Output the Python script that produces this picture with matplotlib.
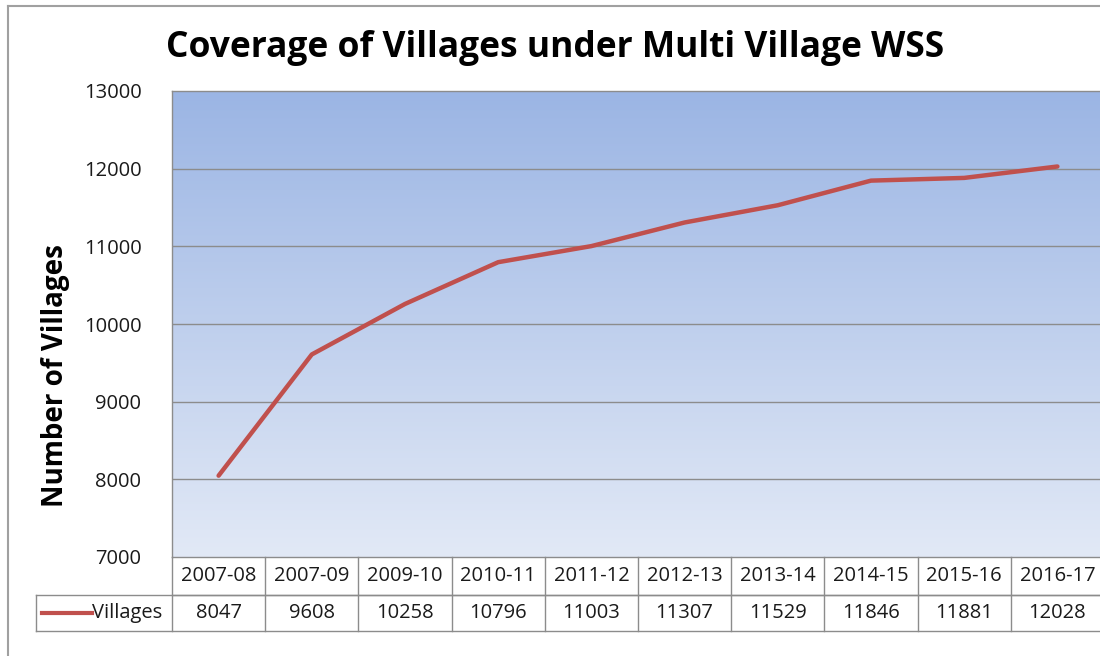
import numpy as np
import matplotlib
matplotlib.use('Agg')
from matplotlib import pyplot as plt
from matplotlib.lines import Line2D
import matplotlib.transforms as mtransforms

years = ['2007-08', '2007-09', '2009-10', '2010-11', '2011-12',
         '2012-13', '2013-14', '2014-15', '2015-16', '2016-17']
villages = [8047, 9608, 10258, 10796, 11003, 11307, 11529, 11846, 11881, 12028]
yticks = [7000, 8000, 9000, 10000, 11000, 12000, 13000]

title = 'Coverage of Villages under Multi Village WSS'
ylabel = 'Number of Villages'
series_name = 'Villages'

red = '#C0504D'
grid_c = '#8C8C8C'
text_c = '#1a1a1a'
font = 'Open Sans'

W, H = 1100, 656
fig = plt.figure(figsize=(W / 100, H / 100), dpi=100)
fig.patch.set_facecolor('white')

# plot area in pixels (right edge runs past the image, like the reference)
L, R, T, B = 172, 1104, 91, 557
ax = fig.add_axes([L / W, 1 - B / H, (R - L) / W, (B - T) / H])

n = len(years)
x = np.arange(n)

# gradient background, darker blue at the top
grad = np.linspace(0, 1, 256).reshape(-1, 1)
top = np.array([155, 181, 228]) / 255
bot = np.array([226, 233, 246]) / 255
img = top[None, None, :] * (1 - grad[:, :, None]) + bot[None, None, :] * grad[:, :, None]
ax.imshow(img, extent=[-0.5, n - 0.5, yticks[0], yticks[-1]], origin='upper',
          aspect='auto', zorder=0)
ax.set_xlim(-0.5, n - 0.5)
ax.set_ylim(yticks[0], yticks[-1])

for yv in yticks[1:-1]:
    ax.axhline(yv, color=grid_c, lw=1, zorder=1)

ax.plot(x, villages, color=red, lw=3.2, zorder=3, solid_capstyle='round')

ax.set_xticks([])
ax.set_yticks(yticks)
ax.set_yticklabels([str(v) for v in yticks], fontsize=14.5, family=font, color=text_c)
ax.tick_params(axis='y', length=0, pad=22)
for s in ax.spines.values():
    s.set_color(grid_c)
    s.set_linewidth(1)

# data table below the plot
tr = mtransforms.blended_transform_factory(ax.transData, ax.transAxes)
h1 = -38 / (B - T)
h2 = -74 / (B - T)
colw = (R - L) / n
xleft = -0.5 - (L - 36) / colw
lk = dict(color=grid_c, lw=1, transform=tr, clip_on=False)
ax.add_line(Line2D([-0.5, n - 0.5], [h1, h1], **lk))
ax.add_line(Line2D([xleft, n - 0.5], [h1, h1], **lk))
ax.add_line(Line2D([xleft, n - 0.5], [h2, h2], **lk))
ax.add_line(Line2D([xleft, xleft], [h1, h2], **lk))
for i in range(n + 1):
    ax.add_line(Line2D([i - 0.5, i - 0.5], [0, h2], **lk))
for i in range(n):
    ax.text(x[i], h1 / 2, years[i], transform=tr, ha='center', va='center',
            fontsize=14.5, family=font, color=text_c)
    ax.text(x[i], (h1 + h2) / 2, str(villages[i]), transform=tr, ha='center',
            va='center', fontsize=14.5, family=font, color=text_c)
lx0 = -0.5 - (L - 42) / colw
lx1 = -0.5 - (L - 92) / colw
ax.add_line(Line2D([lx0, lx1], [(h1 + h2) / 2] * 2, color=red, lw=3,
                   transform=tr, clip_on=False))
ax.text(lx1, (h1 + h2) / 2, series_name, transform=tr, ha='left', va='center',
        fontsize=14.5, family=font, color=text_c)

fig.text(555 / W, 1 - 48 / H, title, ha='center', va='center', fontsize=25.5,
         fontweight='bold', family=font, color='black')
fig.text(55 / W, 1 - 376 / H, ylabel, ha='center', va='center', rotation=90,
         fontsize=20, fontweight='bold', family=font, color='black')

# outer chart border
fig.add_artist(Line2D([8 / W, 8 / W], [0, 1 - 6 / H], color='#A0A0A0', lw=1.5,
                      transform=fig.transFigure))
fig.add_artist(Line2D([8 / W, 1], [1 - 6 / H, 1 - 6 / H], color='#A0A0A0', lw=1.5,
                      transform=fig.transFigure))

fig.savefig('out.png', dpi=100)
